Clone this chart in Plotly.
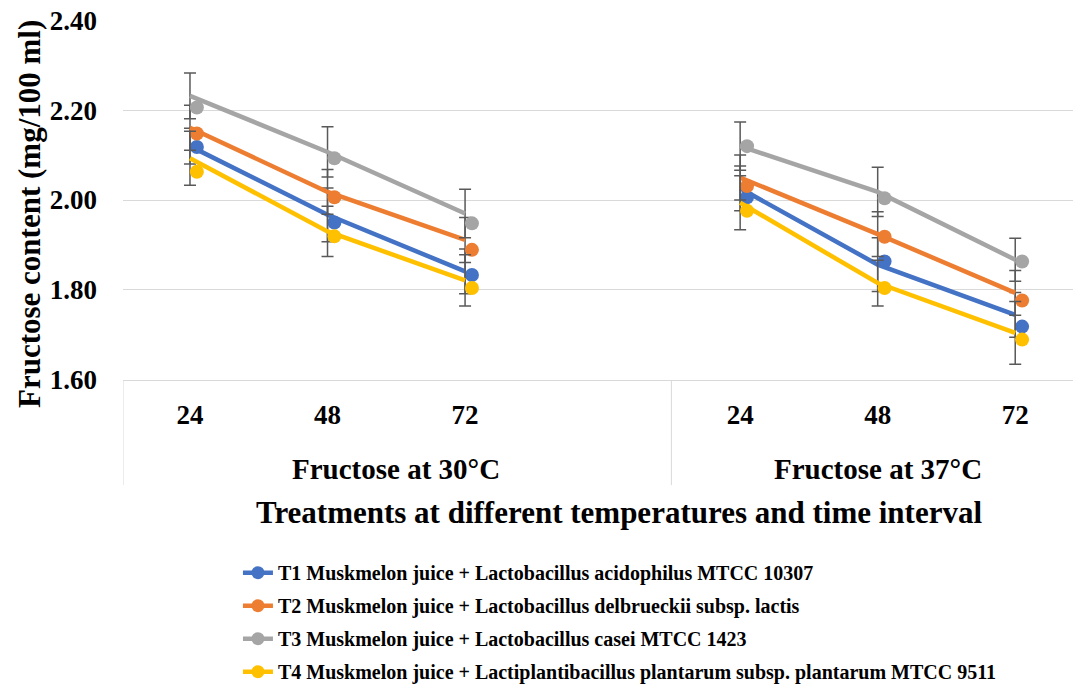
import plotly.graph_objects as go

# ---------------- data ----------------
hours = ["24", "48", "72"]
groups = ["Fructose at 30°C", "Fructose at 37°C"]

series_names = [
    "T1 Muskmelon juice + Lactobacillus acidophilus MTCC 10307",
    "T2 Muskmelon juice + Lactobacillus delbrueckii subsp. lactis",
    "T3 Muskmelon juice + Lactobacillus casei MTCC 1423",
    "T4 Muskmelon juice + Lactiplantibacillus plantarum subsp. plantarum MTCC 9511",
]
colors = ["#4472C4", "#ED7D31", "#A5A5A5", "#FFC000"]

# values ordered: 30°C (24, 48, 72), 37°C (24, 48, 72)
t1_line = [2.120, 1.967, 1.841, 2.026, 1.856, 1.744]
t2_line = [2.161, 2.018, 1.911, 2.050, 1.924, 1.793]
t3_line = [2.232, 2.107, 1.970, 2.120, 2.018, 1.867]
t4_line = [2.093, 1.930, 1.821, 1.994, 1.815, 1.704]

t1_point = [2.118, 1.950, 1.833, 2.006, 1.863, 1.718]
t2_point = [2.148, 2.006, 1.889, 2.031, 1.918, 1.776]
t3_point = [2.206, 2.093, 1.948, 2.120, 2.004, 1.863]
t4_point = [2.063, 1.919, 1.804, 1.976, 1.804, 1.689]

t1_err = [0.040, 0.060, 0.050, 0.050, 0.060, 0.050]
t2_err = [0.050, 0.050, 0.050, 0.050, 0.050, 0.050]
t3_err = [0.051, 0.056, 0.054, 0.054, 0.055, 0.048]
t4_err = [0.060, 0.056, 0.057, 0.060, 0.051, 0.070]

line_vals = [t1_line, t2_line, t3_line, t4_line]
point_vals = [t1_point, t2_point, t3_point, t4_point]
err_vals = [t1_err, t2_err, t3_err, t4_err]

# ---------------- layout helpers ----------------
n_h = len(hours)
slot = n_h + 1
xs = [g * slot + i for g in range(len(groups)) for i in range(n_h)]
marker_shift = 0.05
FONT = "Liberation Serif, Times New Roman, serif"


def with_breaks(vals):
    """Insert None between temperature groups so lines do not connect."""
    out = []
    for g in range(len(groups)):
        out.extend(vals[g * n_h:(g + 1) * n_h])
        out.append(None)
    return out


fig = go.Figure()

for k in range(4):
    fig.add_trace(go.Scatter(
        x=with_breaks(xs), y=with_breaks(line_vals[k]), mode="lines",
        line=dict(color=colors[k], width=4.5),
        error_y=dict(type="data", array=with_breaks(err_vals[k]), visible=True,
                     color="#595959", thickness=1.5, width=6),
        connectgaps=False, showlegend=False, hoverinfo="skip",
    ))
    fig.add_trace(go.Scatter(
        x=[v + marker_shift for v in xs], y=point_vals[k], mode="markers",
        marker=dict(color=colors[k], size=14),
        showlegend=False,
    ))

# legend-only entries
for k in range(4):
    fig.add_trace(go.Scatter(
        x=[None], y=[None], mode="lines+markers", name=series_names[k],
        line=dict(color=colors[k], width=4.5),
        marker=dict(color=colors[k], size=13),
        legendgroup=f"g{k}",
    ))

x_lo, x_hi = -0.487, 6.42

shapes = [
    dict(type="line", xref="x", yref="paper", x0=x_lo, x1=x_lo, y0=0, y1=-0.292,
         line=dict(color="#D9D9D9", width=1)),
    dict(type="line", xref="x", yref="paper", x0=slot - 0.5, x1=slot - 0.5, y0=0, y1=-0.292,
         line=dict(color="#D9D9D9", width=1)),
]

annotations = []
for g, name in enumerate(groups):
    n_in_group = slot if g < len(groups) - 1 else n_h
    cx = g * slot + (n_in_group - 1) / 2
    annotations.append(dict(
        x=cx, y=-0.247, xref="x", yref="paper", text=name, showarrow=False,
        xanchor="center", yanchor="middle",
        font=dict(family=FONT, size=29, color="black", weight="bold"),
    ))

annotations.append(dict(
    x=0.522, y=-0.367, xref="paper", yref="paper",
    text="Treatments at different temperatures and time interval", showarrow=False,
    xanchor="center", yanchor="middle",
    font=dict(family=FONT, size=31, color="black", weight="bold"),
))
annotations.append(dict(
    x=0, y=0.5, xref="paper", yref="paper", xshift=-94, yshift=-14,
    text="Fructose content (mg/100 ml)", showarrow=False, textangle=-90,
    xanchor="center", yanchor="middle",
    font=dict(family=FONT, size=31, color="black", weight="bold"),
))

fig.update_layout(
    width=1073, height=693,
    margin=dict(l=123, r=0, t=20, b=313, autoexpand=False),
    plot_bgcolor="white", paper_bgcolor="white",
    font=dict(family=FONT, color="black"),
    xaxis=dict(
        range=[x_lo, x_hi], tickmode="array", tickvals=xs,
        ticktext=hours * len(groups),
        tickfont=dict(family=FONT, size=27, color="black", weight="bold"),
        showgrid=False, zeroline=False, showline=True,
        linecolor="#D9D9D9", linewidth=1, ticks="", ticklabelstandoff=11,
    ),
    yaxis=dict(
        range=[1.599, 2.401], tickmode="array",
        tickvals=[1.6, 1.8, 2.0, 2.2, 2.4], tickformat=".2f",
        tickfont=dict(family=FONT, size=27, color="black", weight="bold"),
        showgrid=True, gridcolor="#D9D9D9", gridwidth=1,
        zeroline=False, showline=False, ticks="", ticklabelstandoff=25,
    ),
    legend=dict(
        x=0.121, y=-0.481, xanchor="left", yanchor="top",
        font=dict(family=FONT, size=20, color="black", weight="bold"),
        tracegroupgap=4, bgcolor="rgba(0,0,0,0)",
    ),
    shapes=shapes,
    annotations=annotations,
)

fig.write_html("out.html")
